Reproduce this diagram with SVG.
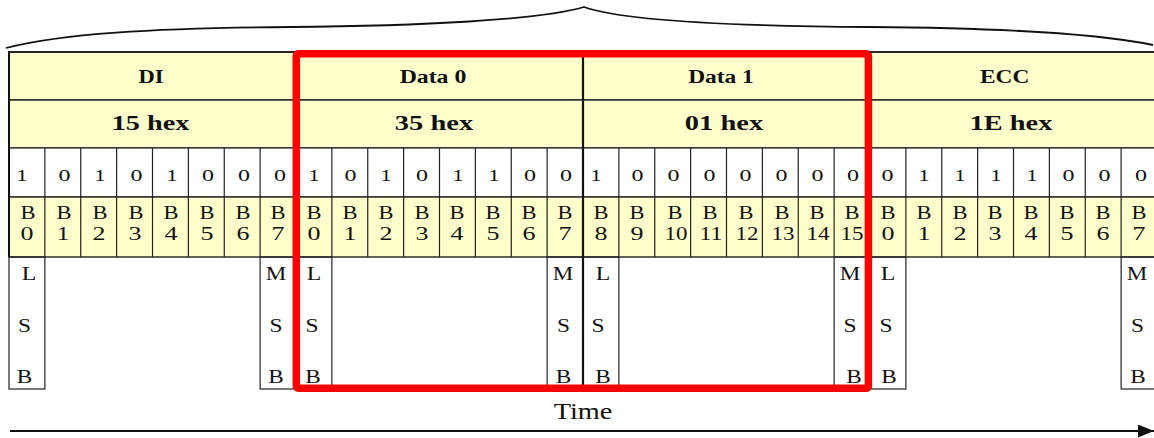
<svg xmlns="http://www.w3.org/2000/svg" width="1154" height="438" viewBox="0 0 1154 438">
<style>
.y{fill:#FFFFCC;stroke:#222;stroke-width:1.4}
.w{fill:#fff;stroke:#222;stroke-width:1.2}
.g{fill:none;stroke:#222;stroke-width:1.2}
.t{font-family:"Liberation Serif","Times New Roman",serif;fill:#111;text-anchor:middle}
.h1{font-size:18px;font-weight:bold}
.h2{font-size:22px;font-weight:bold}
.bit{font-size:17px}
.bl{font-size:19px}
.sb{font-size:18px}
</style>
<defs>
<marker id="ah" viewBox="0 0 16 13" refX="16" refY="6.5" markerWidth="16" markerHeight="13" markerUnits="userSpaceOnUse" orient="auto">
<path d="M0,0 L16,6.5 L0,13 Z" fill="#111"/>
</marker>
</defs>
<rect width="1154" height="438" fill="#fff"/>

<g id="byte-di">
<rect class="y" x="9" y="52" width="287" height="48"/>
<rect class="y" x="9" y="100" width="287" height="48"/>
<rect class="w" x="9" y="148" width="287" height="49"/>
<rect class="y" x="9" y="197" width="287" height="60"/>
<path class="g" d="M44.875,148V257M80.75,148V257M116.625,148V257M152.5,148V257M188.375,148V257M224.25,148V257M260.125,148V257"/>
<rect class="g" x="9" y="257" width="35.875" height="132"/>
<rect class="g" x="260.125" y="257" width="35.875" height="132"/>
<text class="t h1" x="151" y="83" textLength="25" lengthAdjust="spacingAndGlyphs">DI</text>
<text class="t h2" x="150.5" y="130" textLength="77.7" lengthAdjust="spacingAndGlyphs">15 hex</text>
<g class="t bit">
<text x="22" y="181" textLength="11" lengthAdjust="spacingAndGlyphs">1</text><text x="64.5" y="181" textLength="12" lengthAdjust="spacingAndGlyphs">0</text><text x="100" y="181" textLength="11" lengthAdjust="spacingAndGlyphs">1</text><text x="136.5" y="181" textLength="12" lengthAdjust="spacingAndGlyphs">0</text><text x="172" y="181" textLength="11" lengthAdjust="spacingAndGlyphs">1</text><text x="208" y="181" textLength="12" lengthAdjust="spacingAndGlyphs">0</text><text x="244" y="181" textLength="12" lengthAdjust="spacingAndGlyphs">0</text><text x="280" y="181" textLength="12" lengthAdjust="spacingAndGlyphs">0</text>
</g>
<g class="t bl">
<text x="28" y="219" textLength="15" lengthAdjust="spacingAndGlyphs">B</text><text x="27" y="240" textLength="13" lengthAdjust="spacingAndGlyphs">0</text>
<text x="64" y="219" textLength="15" lengthAdjust="spacingAndGlyphs">B</text><text x="63" y="240" textLength="13" lengthAdjust="spacingAndGlyphs">1</text>
<text x="100" y="219" textLength="15" lengthAdjust="spacingAndGlyphs">B</text><text x="99" y="240" textLength="13" lengthAdjust="spacingAndGlyphs">2</text>
<text x="136" y="219" textLength="15" lengthAdjust="spacingAndGlyphs">B</text><text x="135" y="240" textLength="13" lengthAdjust="spacingAndGlyphs">3</text>
<text x="171" y="219" textLength="15" lengthAdjust="spacingAndGlyphs">B</text><text x="171" y="240" textLength="13" lengthAdjust="spacingAndGlyphs">4</text>
<text x="207" y="219" textLength="15" lengthAdjust="spacingAndGlyphs">B</text><text x="207" y="240" textLength="13" lengthAdjust="spacingAndGlyphs">5</text>
<text x="243" y="219" textLength="15" lengthAdjust="spacingAndGlyphs">B</text><text x="243" y="240" textLength="13" lengthAdjust="spacingAndGlyphs">6</text>
<text x="278" y="219" textLength="15" lengthAdjust="spacingAndGlyphs">B</text><text x="278" y="240" textLength="13" lengthAdjust="spacingAndGlyphs">7</text>
</g>
<g class="t sb">
<text x="29" y="280" textLength="14.5" lengthAdjust="spacingAndGlyphs">L</text><text x="24.5" y="332" textLength="13" lengthAdjust="spacingAndGlyphs">S</text><text x="24.5" y="383" textLength="15.5" lengthAdjust="spacingAndGlyphs">B</text>
<text x="276" y="280" textLength="20.5" lengthAdjust="spacingAndGlyphs">M</text><text x="276" y="332" textLength="13" lengthAdjust="spacingAndGlyphs">S</text><text x="276" y="383" textLength="15.5" lengthAdjust="spacingAndGlyphs">B</text>
</g>
</g>

<g id="byte-data0">
<rect class="y" x="296" y="52" width="287" height="48"/>
<rect class="y" x="296" y="100" width="287" height="48"/>
<rect class="w" x="296" y="148" width="287" height="49"/>
<rect class="y" x="296" y="197" width="287" height="60"/>
<path class="g" d="M331.875,148V257M367.75,148V257M403.625,148V257M439.5,148V257M475.375,148V257M511.25,148V257M547.125,148V257"/>
<rect class="g" x="296" y="257" width="35.875" height="132"/>
<rect class="g" x="547.125" y="257" width="35.875" height="132"/>
<text class="t h1" x="433" y="83" textLength="66.7" lengthAdjust="spacingAndGlyphs">Data 0</text>
<text class="t h2" x="434" y="130" textLength="78.3" lengthAdjust="spacingAndGlyphs">35 hex</text>
<g class="t bit">
<text x="314" y="181" textLength="11" lengthAdjust="spacingAndGlyphs">1</text><text x="350.5" y="181" textLength="12" lengthAdjust="spacingAndGlyphs">0</text><text x="386" y="181" textLength="11" lengthAdjust="spacingAndGlyphs">1</text><text x="422" y="181" textLength="12" lengthAdjust="spacingAndGlyphs">0</text><text x="458" y="181" textLength="11" lengthAdjust="spacingAndGlyphs">1</text><text x="494" y="181" textLength="11" lengthAdjust="spacingAndGlyphs">1</text><text x="530" y="181" textLength="12" lengthAdjust="spacingAndGlyphs">0</text><text x="566" y="181" textLength="12" lengthAdjust="spacingAndGlyphs">0</text>
</g>
<g class="t bl">
<text x="314" y="219" textLength="15" lengthAdjust="spacingAndGlyphs">B</text><text x="314" y="240" textLength="13" lengthAdjust="spacingAndGlyphs">0</text>
<text x="350" y="219" textLength="15" lengthAdjust="spacingAndGlyphs">B</text><text x="350" y="240" textLength="13" lengthAdjust="spacingAndGlyphs">1</text>
<text x="386" y="219" textLength="15" lengthAdjust="spacingAndGlyphs">B</text><text x="386" y="240" textLength="13" lengthAdjust="spacingAndGlyphs">2</text>
<text x="422" y="219" textLength="15" lengthAdjust="spacingAndGlyphs">B</text><text x="422" y="240" textLength="13" lengthAdjust="spacingAndGlyphs">3</text>
<text x="457" y="219" textLength="15" lengthAdjust="spacingAndGlyphs">B</text><text x="457" y="240" textLength="13" lengthAdjust="spacingAndGlyphs">4</text>
<text x="493" y="219" textLength="15" lengthAdjust="spacingAndGlyphs">B</text><text x="493" y="240" textLength="13" lengthAdjust="spacingAndGlyphs">5</text>
<text x="529" y="219" textLength="15" lengthAdjust="spacingAndGlyphs">B</text><text x="529" y="240" textLength="13" lengthAdjust="spacingAndGlyphs">6</text>
<text x="565" y="219" textLength="15" lengthAdjust="spacingAndGlyphs">B</text><text x="565" y="240" textLength="13" lengthAdjust="spacingAndGlyphs">7</text>
</g>
<g class="t sb">
<text x="314" y="280" textLength="14.5" lengthAdjust="spacingAndGlyphs">L</text><text x="312" y="332" textLength="13" lengthAdjust="spacingAndGlyphs">S</text><text x="313" y="383" textLength="15.5" lengthAdjust="spacingAndGlyphs">B</text>
<text x="563" y="280" textLength="20.5" lengthAdjust="spacingAndGlyphs">M</text><text x="563.5" y="332" textLength="13" lengthAdjust="spacingAndGlyphs">S</text><text x="563.5" y="383" textLength="15.5" lengthAdjust="spacingAndGlyphs">B</text>
</g>
</g>

<g id="byte-data1">
<rect class="y" x="583" y="52" width="287" height="48"/>
<rect class="y" x="583" y="100" width="287" height="48"/>
<rect class="w" x="583" y="148" width="287" height="49"/>
<rect class="y" x="583" y="197" width="287" height="60"/>
<path class="g" d="M618.875,148V257M654.75,148V257M690.625,148V257M726.5,148V257M762.375,148V257M798.25,148V257M834.125,148V257"/>
<rect class="g" x="583" y="257" width="35.875" height="132"/>
<rect class="g" x="834.125" y="257" width="35.875" height="132"/>
<text class="t h1" x="721" y="83" textLength="65.7" lengthAdjust="spacingAndGlyphs">Data 1</text>
<text class="t h2" x="724" y="130" textLength="78.3" lengthAdjust="spacingAndGlyphs">01 hex</text>
<g class="t bit">
<text x="596" y="181" textLength="11" lengthAdjust="spacingAndGlyphs">1</text><text x="637.5" y="181" textLength="12" lengthAdjust="spacingAndGlyphs">0</text><text x="673.5" y="181" textLength="12" lengthAdjust="spacingAndGlyphs">0</text><text x="709.5" y="181" textLength="12" lengthAdjust="spacingAndGlyphs">0</text><text x="745.5" y="181" textLength="12" lengthAdjust="spacingAndGlyphs">0</text><text x="781.5" y="181" textLength="12" lengthAdjust="spacingAndGlyphs">0</text><text x="817.5" y="181" textLength="12" lengthAdjust="spacingAndGlyphs">0</text><text x="853" y="181" textLength="12" lengthAdjust="spacingAndGlyphs">0</text>
</g>
<g class="t bl">
<text x="601" y="219" textLength="15" lengthAdjust="spacingAndGlyphs">B</text><text x="601" y="240" textLength="13" lengthAdjust="spacingAndGlyphs">8</text>
<text x="637" y="219" textLength="15" lengthAdjust="spacingAndGlyphs">B</text><text x="637" y="240" textLength="13" lengthAdjust="spacingAndGlyphs">9</text>
<text x="675" y="219" textLength="15" lengthAdjust="spacingAndGlyphs">B</text><text x="676" y="240" textLength="23" lengthAdjust="spacingAndGlyphs">10</text>
<text x="710" y="219" textLength="15" lengthAdjust="spacingAndGlyphs">B</text><text x="711" y="240" textLength="23" lengthAdjust="spacingAndGlyphs">11</text>
<text x="746" y="219" textLength="15" lengthAdjust="spacingAndGlyphs">B</text><text x="747" y="240" textLength="23" lengthAdjust="spacingAndGlyphs">12</text>
<text x="782" y="219" textLength="15" lengthAdjust="spacingAndGlyphs">B</text><text x="783" y="240" textLength="23" lengthAdjust="spacingAndGlyphs">13</text>
<text x="817" y="219" textLength="15" lengthAdjust="spacingAndGlyphs">B</text><text x="818" y="240" textLength="23" lengthAdjust="spacingAndGlyphs">14</text>
<text x="852" y="219" textLength="15" lengthAdjust="spacingAndGlyphs">B</text><text x="852" y="240" textLength="23" lengthAdjust="spacingAndGlyphs">15</text>
</g>
<g class="t sb">
<text x="603" y="280" textLength="14.5" lengthAdjust="spacingAndGlyphs">L</text><text x="598" y="332" textLength="13" lengthAdjust="spacingAndGlyphs">S</text><text x="603" y="383" textLength="15.5" lengthAdjust="spacingAndGlyphs">B</text>
<text x="850" y="280" textLength="20.5" lengthAdjust="spacingAndGlyphs">M</text><text x="850" y="332" textLength="13" lengthAdjust="spacingAndGlyphs">S</text><text x="854" y="383" textLength="15.5" lengthAdjust="spacingAndGlyphs">B</text>
</g>
</g>

<g id="byte-ecc">
<rect class="y" x="870" y="52" width="287" height="48"/>
<rect class="y" x="870" y="100" width="287" height="48"/>
<rect class="w" x="870" y="148" width="287" height="49"/>
<rect class="y" x="870" y="197" width="287" height="60"/>
<path class="g" d="M905.875,148V257M941.75,148V257M977.625,148V257M1013.5,148V257M1049.375,148V257M1085.25,148V257M1121.125,148V257"/>
<rect class="g" x="870" y="257" width="35.875" height="132"/>
<rect class="g" x="1121.125" y="257" width="35.875" height="132"/>
<text class="t h1" x="1004.7" y="83" textLength="49.3" lengthAdjust="spacingAndGlyphs">ECC</text>
<text class="t h2" x="1011" y="130" textLength="82.7" lengthAdjust="spacingAndGlyphs">1E hex</text>
<g class="t bit">
<text x="887.5" y="181" textLength="12" lengthAdjust="spacingAndGlyphs">0</text><text x="924" y="181" textLength="11" lengthAdjust="spacingAndGlyphs">1</text><text x="960" y="181" textLength="11" lengthAdjust="spacingAndGlyphs">1</text><text x="996" y="181" textLength="11" lengthAdjust="spacingAndGlyphs">1</text><text x="1032" y="181" textLength="11" lengthAdjust="spacingAndGlyphs">1</text><text x="1068.5" y="181" textLength="12" lengthAdjust="spacingAndGlyphs">0</text><text x="1104.5" y="181" textLength="12" lengthAdjust="spacingAndGlyphs">0</text><text x="1141" y="181" textLength="12" lengthAdjust="spacingAndGlyphs">0</text>
</g>
<g class="t bl">
<text x="888" y="219" textLength="15" lengthAdjust="spacingAndGlyphs">B</text><text x="888" y="240" textLength="13" lengthAdjust="spacingAndGlyphs">0</text>
<text x="924" y="219" textLength="15" lengthAdjust="spacingAndGlyphs">B</text><text x="924" y="240" textLength="13" lengthAdjust="spacingAndGlyphs">1</text>
<text x="960" y="219" textLength="15" lengthAdjust="spacingAndGlyphs">B</text><text x="960" y="240" textLength="13" lengthAdjust="spacingAndGlyphs">2</text>
<text x="995" y="219" textLength="15" lengthAdjust="spacingAndGlyphs">B</text><text x="995" y="240" textLength="13" lengthAdjust="spacingAndGlyphs">3</text>
<text x="1031" y="219" textLength="15" lengthAdjust="spacingAndGlyphs">B</text><text x="1031" y="240" textLength="13" lengthAdjust="spacingAndGlyphs">4</text>
<text x="1067" y="219" textLength="15" lengthAdjust="spacingAndGlyphs">B</text><text x="1067" y="240" textLength="13" lengthAdjust="spacingAndGlyphs">5</text>
<text x="1103" y="219" textLength="15" lengthAdjust="spacingAndGlyphs">B</text><text x="1103" y="240" textLength="13" lengthAdjust="spacingAndGlyphs">6</text>
<text x="1139" y="219" textLength="15" lengthAdjust="spacingAndGlyphs">B</text><text x="1139" y="240" textLength="13" lengthAdjust="spacingAndGlyphs">7</text>
</g>
<g class="t sb">
<text x="888" y="280" textLength="14.5" lengthAdjust="spacingAndGlyphs">L</text><text x="886" y="332" textLength="13" lengthAdjust="spacingAndGlyphs">S</text><text x="889" y="383" textLength="15.5" lengthAdjust="spacingAndGlyphs">B</text>
<text x="1137" y="280" textLength="20.5" lengthAdjust="spacingAndGlyphs">M</text><text x="1137.5" y="332" textLength="13" lengthAdjust="spacingAndGlyphs">S</text><text x="1138" y="383" textLength="15.5" lengthAdjust="spacingAndGlyphs">B</text>
</g>
</g>

<g id="borders">
<path d="M9,51V257" stroke="#111" stroke-width="2" fill="none"/>
<path d="M9,52H1154" stroke="#111" stroke-width="1.6" fill="none"/>
<path d="M583,52V389" stroke="#111" stroke-width="2.2" fill="none"/>
</g>

<g id="highlight">
<rect x="296.3" y="53.7" width="572.1" height="334.6" rx="2" fill="none" stroke="#FF0000" stroke-width="7.5"/>
</g>

<g id="connectors">
<path d="M6,48 C60,34 150,28 290,27 C420,26 540,20 584,7 C620,20 720,26 870,27 C1000,28 1100,34 1153,45" fill="none" stroke="#111" stroke-width="1.8"/>
<path d="M10,431 H1154" fill="none" stroke="#111" stroke-width="2.2" marker-end="url(#ah)"/>
<text class="t" x="583" y="419" font-size="24" textLength="58.7" lengthAdjust="spacingAndGlyphs">Time</text>
</g>
</svg>
